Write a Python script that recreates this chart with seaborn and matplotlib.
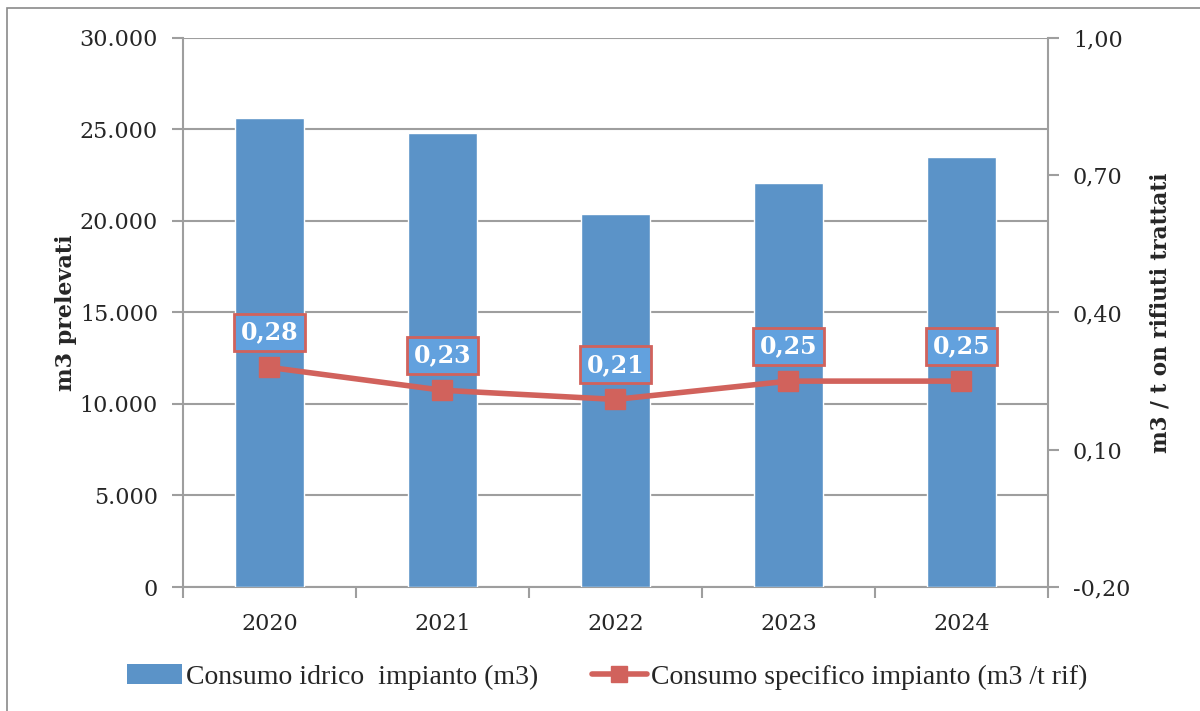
import numpy as np
import seaborn as sns
import matplotlib.pyplot as plt
from matplotlib.patches import Rectangle, Patch
from matplotlib.lines import Line2D
from matplotlib.ticker import FuncFormatter

years = ["2020", "2021", "2022", "2023", "2024"]
consumo = [25600, 24800, 20400, 22100, 23500]
specifico = [0.28, 0.23, 0.21, 0.25, 0.25]
left_ticks = [0, 5000, 10000, 15000, 20000, 25000, 30000]
right_ticks = [-0.20, 0.10, 0.40, 0.70, 1.00]

bar_col = "#5b93c8"
line_col = "#d1625c"
grid_col = "#9e9e9e"

sns.set_theme(style="white")
plt.rcParams["font.family"] = ["DejaVu Serif"]

fig = plt.figure(figsize=(12, 7.11), dpi=100)
ax = fig.add_axes([0.1525, 0.1744, 0.7208, 0.7722])

sns.barplot(x=years, y=consumo, ax=ax, color=bar_col, width=0.4,
            saturation=1, zorder=3)
ax.set_ylim(0, 30000)
ax.set_yticks(left_ticks)
ax.yaxis.set_major_formatter(FuncFormatter(lambda v, p: f"{int(v):,}".replace(",", ".")))
ax.grid(axis="y", color=grid_col, linewidth=1.5, zorder=0)
ax.set_axisbelow(True)
for s in ["top", "right"]:
    ax.spines[s].set_visible(False)
for s in ["left", "bottom"]:
    ax.spines[s].set_color(grid_col)
    ax.spines[s].set_linewidth(1.5)
ax.tick_params(axis="y", labelsize=16, length=8, width=1.5, color=grid_col,
               direction="out", left=True, pad=10)
ax.set_xticks(np.arange(5))
ax.set_xticklabels(years)
ax.tick_params(axis="x", labelsize=16, length=0, pad=19)
ax.set_xticks(np.arange(-0.5, 5, 1), minor=True)
ax.tick_params(axis="x", which="minor", length=8, width=1.5, color=grid_col,
               direction="out", bottom=True)
ax.set_xlabel("")
ax.set_ylabel("m3 prelevati", fontsize=16, fontweight="bold", labelpad=2)

ax2 = ax.twinx()
ax2.plot(np.arange(5), specifico, color=line_col, linewidth=4, marker="s",
         markersize=15, zorder=4)
ax2.set_ylim(-0.20, 1.00)
ax2.set_yticks(right_ticks)
ax2.yaxis.set_major_formatter(FuncFormatter(lambda v, p: f"{v:.2f}".replace(".", ",")))
for s in ["top", "left", "bottom"]:
    ax2.spines[s].set_visible(False)
ax2.spines["right"].set_color(grid_col)
ax2.spines["right"].set_linewidth(1.5)
ax2.tick_params(axis="y", labelsize=16, length=8, width=1.5, color=grid_col,
                direction="out", right=True, pad=10)
ax2.set_ylabel("m3 / t on rifiuti trattati", fontsize=15.5, fontweight="bold",
               labelpad=14)
ax2.grid(False)
ax.set_xlim(-0.5, 4.5)

for i, v in enumerate(specifico):
    ax2.annotate(f"{v:.2f}".replace(".", ","), (i, v), xytext=(0, 25),
                 textcoords="offset points", ha="center", va="center",
                 fontsize=17, fontweight="bold", color="white", zorder=6,
                 bbox=dict(boxstyle="square,pad=0.28", fc="#62a1de",
                           ec=line_col, lw=2))

handles = [Patch(facecolor=bar_col, edgecolor="none"),
           Line2D([0], [0], color=line_col, lw=4, marker="s", markersize=12)]
fig.legend(handles, ["Consumo idrico  impianto (m3)",
                     "Consumo specifico impianto (m3 /t rif)"],
           loc="center", bbox_to_anchor=(0.506, 0.048), ncol=2, frameon=False,
           prop={"family": "Liberation Serif", "size": 20},
           handlelength=2.0, handletextpad=0.15, columnspacing=1.9)

fig.patches.append(Rectangle((0.006, -0.1), 1.1, 1.089, transform=fig.transFigure,
                             fill=False, ec="#8a8a8a", lw=1.2))

fig.savefig("out.png", dpi=100)
